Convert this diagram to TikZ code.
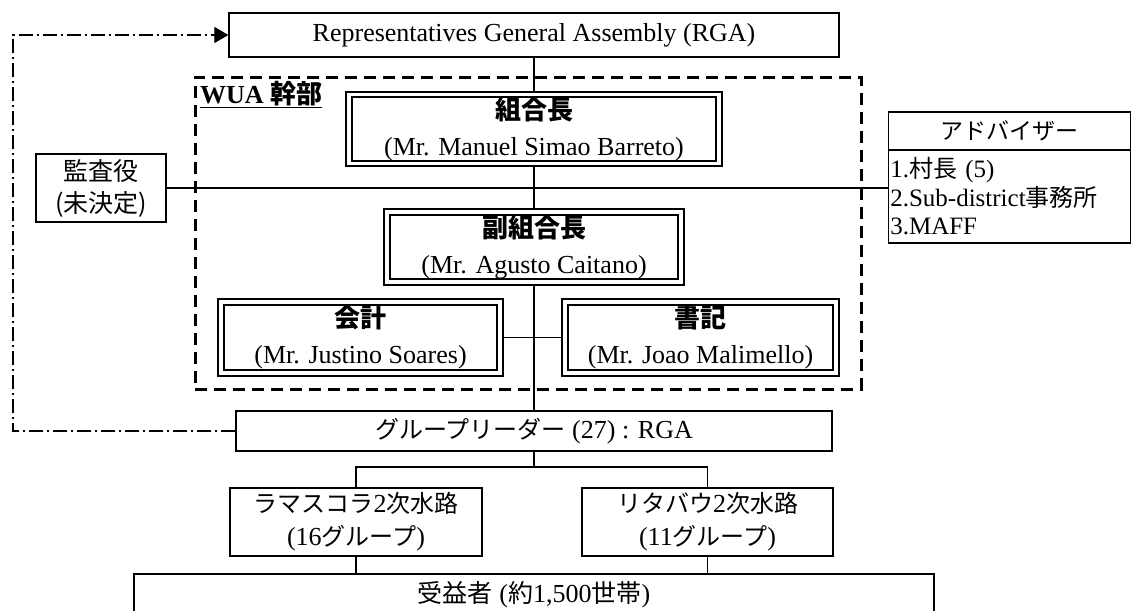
\documentclass[tikz,border=0pt]{standalone}
\usepackage{fontspec}
\setmainfont{Liberation Serif}
\newfontfamily\jp{Noto Sans CJK JP}
\usetikzlibrary{arrows.meta}
\tikzset{
  box/.style={draw, line width=1.3pt, inner sep=0pt, align=center},
  obox/.style={draw, line width=1.2pt, inner sep=0pt},
  ibox/.style={draw, line width=2.4pt, inner sep=0pt, align=center, font=\fontsize{26}{36}\selectfont},
  conn/.style={line width=1.4pt},
  dashbox/.style={draw, line width=3pt, dash pattern=on 12pt off 7pt, inner sep=0pt},
  ddot/.style={line width=1.2pt, dash pattern=on 14pt off 4pt on 2pt off 4pt},
}
\begin{document}
\begin{tikzpicture}[x=1pt,y=-1pt]
\useasboundingbox (0,0) rectangle (1131,610);

% RGA
\node[box, minimum width=610pt, minimum height=44pt, font=\fontsize{26}{30}\selectfont] (rga) at (534,35) {Representatives General Assembly (RGA)};

% WUA dashed frame
\node[dashbox, minimum width=666pt, minimum height=312pt] (wua) at (528,233) {};
\node[anchor=base west, inner sep=0pt, font=\bfseries\fontsize{26}{26}\selectfont] (wual) at (200,103) {\underline{WUA {\jp 幹部}}};

% chairman
\node[obox, minimum width=376pt, minimum height=74pt] (kumiai) at (534,129) {};
\node[ibox, minimum width=364pt, minimum height=62pt] (kumiaiin) at (kumiai) {{\jp\bfseries 組合長}\\(Mr. Manuel Simao Barreto)};

% vice chairman
\node[obox, minimum width=300pt, minimum height=76pt] (fuku) at (534,247) {};
\node[ibox, minimum width=288pt, minimum height=64pt] (fukuin) at (fuku) {{\jp\bfseries 副組合長}\\(Mr. Agusto Caitano)};

% accountant
\node[obox, minimum width=285pt, minimum height=77pt] (kaikei) at (360.5,337.5) {};
\node[ibox, minimum width=273pt, minimum height=65pt] (kaikeiin) at (kaikei) {{\jp\bfseries 会計}\\(Mr. Justino Soares)};

% secretary
\node[obox, minimum width=277pt, minimum height=77pt] (shoki) at (700.5,337.5) {};
\node[ibox, minimum width=265pt, minimum height=65pt] (shokiin) at (shoki) {{\jp\bfseries 書記}\\(Mr. Joao Malimello)};

% auditor
\node[box, minimum width=130pt, minimum height=68pt, font=\jp\fontsize{25}{32}\selectfont] (kansa) at (101,188) {監査役\\(未決定)};

% advisor
\node[box, minimum width=242pt, minimum height=38pt, font=\jp\fontsize{23}{28}\selectfont] (advt) at (1009.3,131) {アドバイザー};
\node[box, minimum width=242pt, minimum height=93pt, align=left, text width=238pt, font=\fontsize{25}{28.5}\selectfont] (advl) at (1009.3,196.5)
  {1.{\jp\fontsize{24}{28.5}\selectfont 村長} (5)\\2.Sub-district{\jp\fontsize{24}{28.5}\selectfont 事務所}\\3.MAFF};

% group leaders
\node[box, minimum width=596pt, minimum height=40pt, font=\fontsize{26}{30}\selectfont] (gl) at (534,431) {{\jp\fontsize{24}{30}\selectfont グループリーダー} (27) : RGA};

% secondary canals
\node[box, minimum width=252pt, minimum height=68pt, font=\fontsize{26}{33}\selectfont] (ramas) at (356,522)
  {{\jp\fontsize{24}{33}\selectfont ラマスコラ}2{\jp\fontsize{24}{33}\selectfont 次水路}\\(16{\jp\fontsize{24}{33}\selectfont グループ})};
\node[box, minimum width=251pt, minimum height=68pt, font=\fontsize{26}{33}\selectfont] (rita) at (707.5,522)
  {{\jp\fontsize{24}{33}\selectfont リタバウ}2{\jp\fontsize{24}{33}\selectfont 次水路}\\(11{\jp\fontsize{24}{33}\selectfont グループ})};

% beneficiaries
\node[box, minimum width=800pt, minimum height=70pt] (jueki) at (534,609) {};
\node[inner sep=0pt, font=\fontsize{26}{30}\selectfont] (juekit) at (534,595)
  {{\jp\fontsize{25}{30}\selectfont 受益者} ({\jp\fontsize{25}{30}\selectfont 約}1,500{\jp\fontsize{25}{30}\selectfont 世帯})};

% connectors
\draw[conn] (rga.south) -- (kumiai.north);
\draw[conn] (kumiai.south) -- (fuku.north);
\draw[conn] (fuku.south) -- (gl.north);
\draw[conn] (kaikei.east) -- (shoki.west);
\draw[conn] (kansa.east) -- (kansa.east -| advl.west);
\coordinate (br) at (534,467);
\draw[conn] (gl.south) -- (br);
\draw[conn] (ramas.north) |- (br) -| (rita.north);
\draw[conn] (ramas.south) -- (ramas.south |- jueki.north);
\draw[conn] (rita.south) -- (rita.south |- jueki.north);
\coordinate (dd) at (13,431);
\draw[ddot, -{Triangle[length=14pt,width=16pt]}] (gl.west) -- (dd) |- (rga.west);
\end{tikzpicture}
\end{document}
